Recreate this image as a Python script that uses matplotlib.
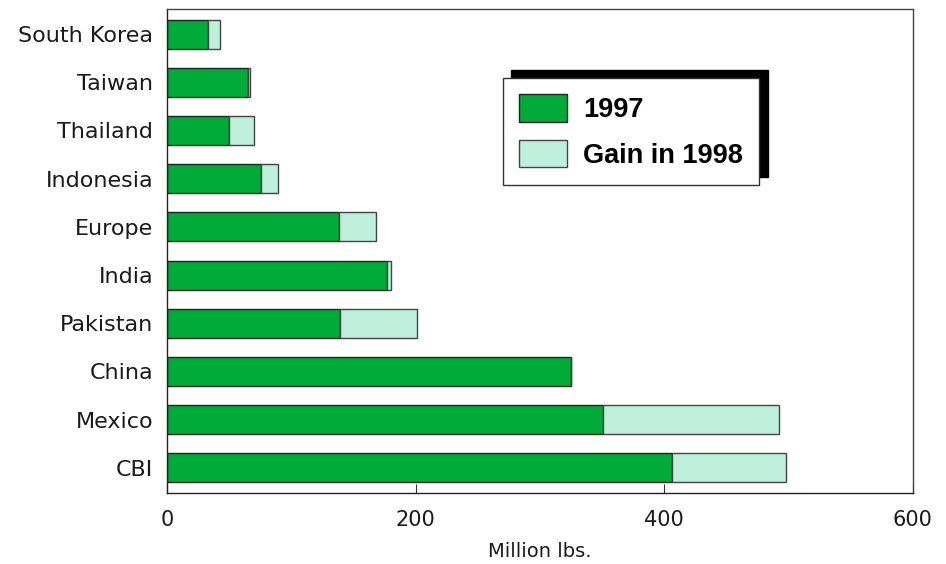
import numpy as np
import matplotlib
matplotlib.use('Agg')
import matplotlib.pyplot as plt

# Data (bottom to top)
regions = ['CBI', 'Mexico', 'China', 'Pakistan', 'India', 'Europe',
           'Indonesia', 'Thailand', 'Taiwan', 'South Korea']
base_1997 = [406, 351, 325, 139, 177, 138, 76, 50, 65, 33]
gain_1998 = [92, 141, 0, 62, 3.5, 30, 13, 20, 1.5, 10]
x_ticks = [0, 200, 400, 600]

green = '#00AB3A'
light = '#BDEFDA'

fig = plt.figure(figsize=(9.46, 5.64), dpi=100)
ax = fig.add_axes([0.1765, 0.126, 0.7885, 0.858])

y = np.arange(len(regions))
ax.barh(y, base_1997, height=0.6, color=green, edgecolor='#222222',
        linewidth=1, label='1997')
ax.barh(y, gain_1998, left=base_1997, height=0.6, color=light,
        edgecolor='#444444', linewidth=1, label='Gain in 1998')

ax.set_xlim(0, 600)
ax.set_ylim(-0.52, len(regions) - 0.48)
ax.set_xticks(x_ticks)
ax.set_xticklabels([str(t) for t in x_ticks], fontsize=15, color='#1a1a1a')
ax.set_yticks(y)
ax.set_yticklabels(regions, fontsize=16, color='#1a1a1a')
ax.tick_params(axis='x', direction='in', length=6.5, pad=12, color='#333333')
ax.tick_params(axis='y', length=0, pad=10)
ax.set_xlabel('Million lbs.', fontsize=14, labelpad=9, color='#1a1a1a')

for side in ['top', 'right']:
    ax.spines[side].set_color('#444444')
    ax.spines[side].set_linewidth(1)
for side in ['left', 'bottom']:
    ax.spines[side].set_color('#222222')
    ax.spines[side].set_linewidth(1)

leg = ax.legend(loc='upper left', bbox_to_anchor=(0.450, 0.857),
                borderaxespad=0, fancybox=False, frameon=True,
                prop={'family': 'Liberation Sans', 'weight': 'bold', 'size': 19.5},
                handlelength=1.78, handleheight=1.19, handletextpad=0.6,
                labelspacing=0.6, borderpad=0.6,
                shadow={'ox': 5.8, 'oy': 5.8, 'color': 'black', 'alpha': 1})
leg.get_frame().set_edgecolor('#333333')
leg.get_frame().set_linewidth(1)
leg.get_frame().set_alpha(1)

fig.savefig('out.png', dpi=100)
